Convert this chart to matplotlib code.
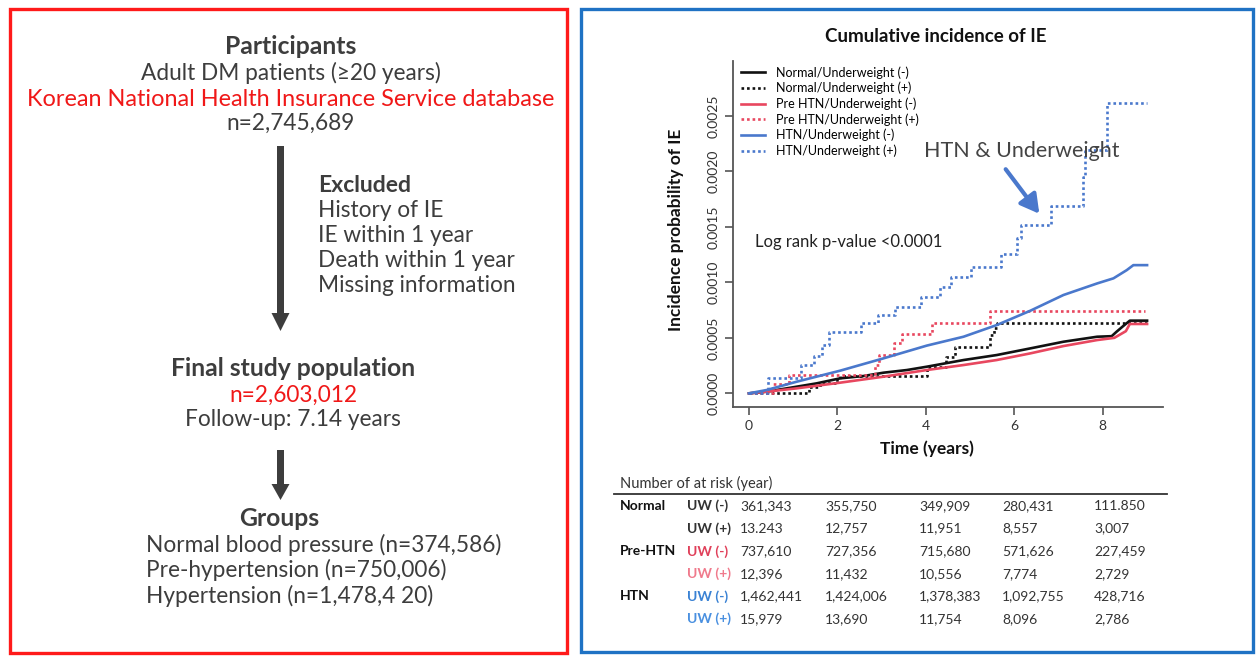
import numpy as np
import matplotlib
matplotlib.use("Agg")
import matplotlib.pyplot as plt
from matplotlib.patches import Rectangle, FancyArrow

plt.rcParams["font.family"] = ["Lato", "DejaVu Sans"]

W, H = 1257, 660

# cumulative incidence (years, value in units of 1e-3)
NORM_NEG_T = [0, 0.4, 1.08, 1.53, 2.06, 2.59, 3.04, 3.57, 4.02, 4.85, 5.6, 6.36, 7.11, 7.87, 8.2, 8.31, 8.46, 8.61, 9.0]
NORM_NEG_V = [0, 0.015, 0.06, 0.09, 0.135, 0.156, 0.186, 0.21, 0.24, 0.3, 0.345, 0.405, 0.465, 0.51, 0.515, 0.555, 0.606, 0.655, 0.655]
NORM_POS_T = [0, 1.35, 1.6, 2.0, 2.05, 4.02, 4.45, 4.65, 5.45, 5.55, 5.6, 9.0]
NORM_POS_V = [0, 0.055, 0.09, 0.13, 0.155, 0.24, 0.33, 0.42, 0.525, 0.59, 0.636, 0.636]
PRE_NEG_T = [0, 0.4, 1.08, 2.06, 3.04, 4.02, 4.85, 5.6, 6.36, 7.11, 7.87, 8.26, 8.52, 8.61, 9.0]
PRE_NEG_V = [0, 0.015, 0.045, 0.096, 0.15, 0.21, 0.255, 0.3, 0.36, 0.426, 0.48, 0.5, 0.56, 0.625, 0.625]
PRE_POS_T = [0, 0.55, 0.9, 2.85, 2.95, 3.27, 3.45, 4.13, 5.44, 8.95]
PRE_POS_V = [0, 0.08, 0.165, 0.255, 0.345, 0.45, 0.535, 0.637, 0.744, 0.744]
HTN_NEG_T = [0, 0.4, 1.08, 2.06, 3.04, 4.02, 4.85, 5.6, 6.36, 7.11, 7.87, 8.24, 8.54, 8.69, 9.0]
HTN_NEG_V = [0, 0.03, 0.105, 0.204, 0.315, 0.43, 0.51, 0.615, 0.744, 0.886, 0.99, 1.036, 1.11, 1.155, 1.155]
HTN_POS_T = [0, 0.44, 1.17, 1.46, 1.65, 1.8, 2.53, 2.92, 3.31, 3.89, 4.33, 4.57, 5.01, 5.69, 6.05, 6.15, 6.83, 7.55, 7.6, 8.09, 9.0]
HTN_POS_V = [0, 0.135, 0.258, 0.34, 0.44, 0.555, 0.633, 0.705, 0.78, 0.87, 0.96, 1.05, 1.14, 1.254, 1.4, 1.52, 1.69, 1.95, 2.19, 2.62, 2.62]

LEGEND = [
    "Normal/Underweight (-)",
    "Normal/Underweight (+)",
    "Pre HTN/Underweight (-)",
    "Pre HTN/Underweight (+)",
    "HTN/Underweight (-)",
    "HTN/Underweight (+)",
]
XTICKS = [0, 2, 4, 6, 8]
YTICKS = [0.0, 0.0005, 0.0010, 0.0015, 0.0020, 0.0025]

GROUPS = ["Normal", "", "Pre-HTN", "", "HTN", ""]
UW_LABELS = ["UW (-)", "UW (+)", "UW (-)", "UW (+)", "UW (-)", "UW (+)"]
AT_RISK = [
    ["361,343", "355,750", "349,909", "280,431", "111.850"],
    ["13.243", "12,757", "11,951", "8,557", "3,007"],
    ["737,610", "727,356", "715,680", "571,626", "227,459"],
    ["12,396", "11,432", "10,556", "7,774", "2,729"],
    ["1,462,441", "1,424,006", "1,378,383", "1,092,755", "428,716"],
    ["15,979", "13,690", "11,754", "8,096", "2,786"],
]

GRAY = "#3d3d3d"
RED = "#f01818"
KM_BLACK = "#111111"
KM_RED = "#e8475f"
KM_BLUE = "#4a78cc"
UW_COLORS = ["#333333", "#333333", "#e0405a", "#f07a8c", "#3a82d4", "#4a90e0"]
DOT = (0, (1, 1.1))

fig = plt.figure(figsize=(W / 100, H / 100), dpi=100)

# --- survival curves
ax = fig.add_axes([733 / W, 1 - 407 / H, 430 / W, 346 / H])
ax.set_facecolor("none")
curves = [
    (NORM_NEG_T, NORM_NEG_V, KM_BLACK, "-", "default"),
    (NORM_POS_T, NORM_POS_V, KM_BLACK, DOT, "steps-post"),
    (PRE_NEG_T, PRE_NEG_V, KM_RED, "-", "default"),
    (PRE_POS_T, PRE_POS_V, KM_RED, DOT, "steps-post"),
    (HTN_NEG_T, HTN_NEG_V, KM_BLUE, "-", "default"),
    (HTN_POS_T, HTN_POS_V, KM_BLUE, DOT, "steps-post"),
]
for (t, v, c, ls, ds), lab in zip(curves, LEGEND):
    ax.plot(t, np.array(v) * 1e-3, color=c, ls=ls, lw=1.9, drawstyle=ds, label=lab)

ax.set_xlim(-0.36, 9.36)
ax.set_ylim(-0.000123, 0.002994)
ax.set_xticks(XTICKS)
ax.set_xticklabels([str(x) for x in XTICKS])
ax.set_yticks(YTICKS)
ax.set_yticklabels([f"{y:.4f}" for y in YTICKS], rotation=90, va="center")
for s in ["top", "right"]:
    ax.spines[s].set_visible(False)
for s in ["left", "bottom"]:
    ax.spines[s].set_color("#555555")
    ax.spines[s].set_linewidth(1.3)
ax.tick_params(direction="out", length=5.5, width=1.2, color="#555555",
               labelsize=10, labelcolor="#333333", pad=4)

leg = ax.legend(loc="upper left", bbox_to_anchor=(741 / W, 1 - 66 / H),
                bbox_transform=fig.transFigure, frameon=False, fontsize=9,
                handlelength=1.9, handletextpad=0.9, labelspacing=0.25,
                borderpad=0, borderaxespad=0)

# --- overlay in pixel coordinates for the flow chart, labels and table
ov = fig.add_axes([0, 0, 1, 1], zorder=5)
ov.set_xlim(0, W)
ov.set_ylim(H, 0)
ov.axis("off")
ov.patch.set_alpha(0)

ov.add_patch(Rectangle((10, 9), 557, 644, fill=False, ec="#ff1a1a", lw=2.4))
ov.add_patch(Rectangle((581, 9), 672, 643, fill=False, ec="#1f72c4", lw=2.4))


def txt(x, y, s, size=16.3, color=GRAY, ha="center", weight="normal", **kw):
    ov.text(x, y, s, fontsize=size, color=color, ha=ha, va="center",
            fontweight=weight, **kw)


HEAD = 17.8

txt(291, 46, "Participants", size=HEAD, weight="bold")
txt(291, 73, "Adult DM patients (≥20 years)")
txt(291, 99, "Korean National Health Insurance Service database", size=16.9, color=RED)
txt(291, 123, "n=2,745,689")
ov.add_patch(FancyArrow(280.5, 146, 0, 185, width=7, head_width=18, head_length=18,
                        length_includes_head=True, color=GRAY, lw=0))
for i, s in enumerate(["Excluded", "History of IE", "IE within 1 year",
                       "Death within 1 year", "Missing information"]):
    if i == 0:
        txt(318, 185, s, size=16.5, ha="left", weight="bold")
    else:
        txt(318, 185 + i * 25.2, s, ha="left")

txt(293, 369, "Final study population", size=HEAD, weight="bold")
txt(293, 395, "n=2,603,012", color=RED)
txt(293, 420, "Follow-up: 7.14 years")
ov.add_patch(FancyArrow(280.5, 450, 0, 50, width=7, head_width=18, head_length=16,
                        length_includes_head=True, color=GRAY, lw=0))
txt(279, 518, "Groups", size=HEAD, weight="bold")
for i, s in enumerate(["Normal blood pressure (n=374,586)",
                       "Pre-hypertension (n=750,006)",
                       "Hypertension (n=1,478,4 20)"]):
    txt(146, 545 + i * 25.3, s, ha="left")

# right panel labels
txt(936, 37, "Cumulative incidence of IE", size=13.5, color="#111111", weight="bold")
txt(676, 230, "Incidence probability of IE", size=12.5, color="#111111",
    weight="bold", rotation=90)
txt(927, 449, "Time (years)", size=12.5, color="#111111", weight="bold")
txt(755, 242, "Log rank p-value <0.0001", size=12, color="#222222", ha="left")
txt(924, 151, "HTN & Underweight", size=15.5, color="#444444", ha="left")
ov.annotate("", xy=(1041, 216), xytext=(1004, 167),
            arrowprops=dict(arrowstyle="-|>,head_length=0.8,head_width=0.45",
                            lw=3, color=KM_BLUE, mutation_scale=14))

# at-risk table
txt(620, 483, "Number of at risk (year)", size=10.5, color="#333333", ha="left")
ov.plot([614, 1167], [493.5, 493.5], color="#333333", lw=1.3)
col_x = [740, 825, 919, 1002, 1094]
for r in range(len(AT_RISK)):
    y = 506 + r * 22.6
    if GROUPS[r]:
        txt(620, y, GROUPS[r], size=10, color="#111111", ha="left", weight="bold")
    txt(687, y, UW_LABELS[r], size=10, color=UW_COLORS[r], ha="left", weight="bold")
    for x, val in zip(col_x, AT_RISK[r]):
        txt(x, y, val, size=10, color="#333333", ha="left")

fig.savefig("out.png", dpi=100, facecolor="white")
